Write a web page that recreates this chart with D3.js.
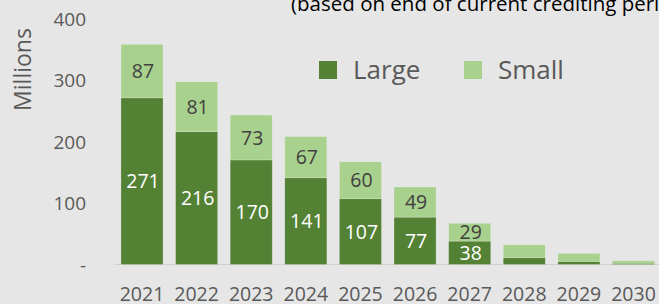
<!DOCTYPE html>
<html>
<head>
<meta charset="utf-8">
<script src="https://cdn.jsdelivr.net/npm/d3@7"></script>
<style>
  html, body { margin: 0; padding: 0; background: #e6e6e6; }
  svg { display: block; font-family: "Open Sans", sans-serif; }
</style>
</head>
<body>
<div id="chart"></div>
<script>
// chart data
const years = ["2021", "2022", "2023", "2024", "2025", "2026", "2027", "2028", "2029", "2030"];
const large = [271, 216, 170, 141, 107, 77, 38, 11, 5, 2];
const small = [87, 81, 73, 67, 60, 49, 29, 21, 13, 4];
const labelledYears = 7; // only the first seven years carry value labels
const yTicks = [0, 100, 200, 300, 400];
const seriesNames = ["Large", "Small"];

const width = 659,
      height = 304;

const colors = { Large: "#548235", Small: "#a9d18e" };

const svg = d3.select("#chart")
  .append("svg")
  .attr("width", width)
  .attr("height", height);

svg.append("rect")
  .attr("width", width)
  .attr("height", height)
  .attr("fill", "#e6e6e6");

// stacked rows
const rows = years.map((y, i) => ({ year: y, Large: large[i], Small: small[i], idx: i }));
const stack = d3.stack().keys(seriesNames)(rows);

const x = d3.scaleBand()
  .domain(years)
  .range([114.7, 660.8])
  .paddingInner(0.23)
  .paddingOuter(0.115);

const y = d3.scaleLinear()
  .domain([0, 400])
  .range([264.5, 18.5]);

// title (cut off at the top right, as in the source)
svg.append("text")
  .attr("x", 291)
  .attr("y", 11)
  .attr("font-size", 20.5)
  .attr("fill", "#000")
  .text("(based on end of current crediting period)");

// y axis tick labels
svg.selectAll(".ytick")
  .data(yTicks)
  .enter()
  .append("text")
  .attr("class", "ytick")
  .attr("x", 86)
  .attr("y", d => y(d))
  .attr("dy", "0.38em")
  .attr("text-anchor", "end")
  .attr("font-size", 19)
  .attr("fill", "#595959")
  .text(d => d === 0 ? "-" : d);

// y axis title
svg.append("text")
  .attr("transform", "translate(31, 69.5) rotate(-90)")
  .attr("text-anchor", "middle")
  .attr("font-size", 23)
  .attr("fill", "#595959")
  .text("Millions");

// baseline
svg.append("line")
  .attr("x1", 115)
  .attr("x2", width)
  .attr("y1", y(0))
  .attr("y2", y(0))
  .attr("stroke", "#d0d0d0")
  .attr("stroke-width", 1);

// bars
const layers = svg.selectAll(".layer")
  .data(stack)
  .enter()
  .append("g")
  .attr("class", "layer")
  .attr("fill", d => colors[d.key]);

layers.selectAll("rect")
  .data(d => d)
  .enter()
  .append("rect")
  .attr("x", d => x(d.data.year))
  .attr("y", d => y(d[1]))
  .attr("width", x.bandwidth())
  .attr("height", d => y(d[0]) - y(d[1]))
  .attr("stroke", "rgba(255,255,255,0.25)")
  .attr("stroke-width", 0.75);

// value labels
layers.selectAll(".val")
  .data(d => d.map(p => ({ p: p, key: d.key })))
  .enter()
  .filter(d => d.p.data.idx < labelledYears)
  .append("text")
  .attr("class", "val")
  .attr("x", d => x(d.p.data.year) + x.bandwidth() / 2 + 1)
  .attr("y", d => (y(d.p[0]) + y(d.p[1])) / 2)
  .attr("dy", "0.36em")
  .attr("text-anchor", "middle")
  .attr("font-size", 19.5)
  .attr("fill", d => d.key === "Large" ? "#ffffff" : "#404040")
  .text(d => d.p.data[d.key]);

// x axis labels
svg.selectAll(".xlab")
  .data(years)
  .enter()
  .append("text")
  .attr("class", "xlab")
  .attr("x", d => x(d) + x.bandwidth() / 2)
  .attr("y", 301)
  .attr("text-anchor", "middle")
  .attr("font-size", 19.5)
  .attr("fill", "#595959")
  .text(d => d);

// legend
const legendX = [319, 464];
const legend = svg.selectAll(".legend")
  .data(seriesNames)
  .enter()
  .append("g")
  .attr("class", "legend")
  .attr("transform", (d, i) => "translate(" + legendX[i] + ", 61)");

legend.append("rect")
  .attr("width", 18)
  .attr("height", 18)
  .attr("fill", d => colors[d]);

legend.append("text")
  .attr("x", 34)
  .attr("y", 18)
  .attr("font-size", 26)
  .attr("fill", "#595959")
  .text(d => d);
</script>
</body>
</html>
